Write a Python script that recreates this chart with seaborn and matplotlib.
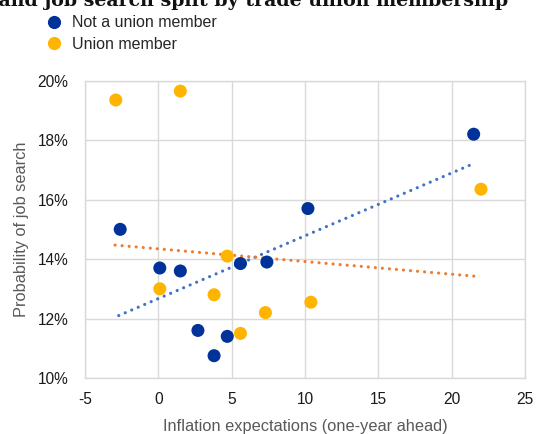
import matplotlib
matplotlib.use("Agg")
import matplotlib.pyplot as plt
import seaborn as sns
import pandas as pd
from matplotlib.lines import Line2D

# ---- data ----
non_union_x = [-2.6, 0.1, 1.5, 2.7, 4.7, 3.8, 5.6, 7.4, 10.2, 21.5]
non_union_y = [15.0, 13.7, 13.6, 11.6, 11.4, 10.75, 13.85, 13.9, 15.7, 18.2]
union_x = [-2.9, 1.5, 4.7, 0.1, 3.8, 5.6, 7.3, 10.4, 22.0]
union_y = [19.35, 19.65, 14.1, 13.0, 12.8, 11.5, 12.2, 12.55, 16.35]
trend_non_union_x = [-2.7, 21.2]
trend_non_union_y = [12.1, 17.15]
trend_union_x = [-2.95, 21.9]
trend_union_y = [14.47, 13.41]
x_ticks = [-5, 0, 5, 10, 15, 20, 25]
y_ticks = [10, 12, 14, 16, 18, 20]
series_names = ["Not a union member", "Union member"]
title = "Inflation expectations and job search split by trade union membership"
x_label = "Inflation expectations (one-year ahead)"
y_label = "Probability of job search"

sns.set_theme(style="white")
plt.rcParams['font.family'] = ['Liberation Sans', 'DejaVu Sans']

W, H = 536, 434
fig = plt.figure(figsize=(W / 100, H / 100), dpi=100)
ax = fig.add_axes([85 / W, (H - 378) / H, (525 - 85) / W, (378 - 80.7) / H])

df = pd.DataFrame({
    "x": non_union_x + union_x,
    "y": non_union_y + union_y,
    "group": [series_names[0]] * len(non_union_x) + [series_names[1]] * len(union_x),
})
palette = {series_names[0]: "#003299", series_names[1]: "#FFB400"}

dot_style = dict(linewidth=2.3, linestyle=(0, (0.01, 2.2)), dash_capstyle="round")
sns.lineplot(x=trend_non_union_x, y=trend_non_union_y, ax=ax, color="#4472C4", zorder=3, **dot_style)
sns.lineplot(x=trend_union_x, y=trend_union_y, ax=ax, color="#ED7D31", zorder=3, **dot_style)
sns.scatterplot(data=df, x="x", y="y", hue="group", palette=palette, s=88,
                linewidth=0, ax=ax, zorder=4, legend=False)

ax.set_xlim(-5, 25)
ax.set_ylim(10, 20)
ax.set_xticks(x_ticks)
ax.set_yticks(y_ticks)
ax.set_xticklabels([str(t) for t in x_ticks])
ax.set_yticklabels([f"{t}%" for t in y_ticks])
ax.grid(True, color="#d9d9d9", linewidth=1.0)
ax.set_axisbelow(True)
for s in ax.spines.values():
    s.set_visible(True)
    s.set_color("#d9d9d9")
    s.set_linewidth(1.0)
ax.tick_params(axis="both", length=0, labelsize=11.2, colors="#1a1a1a")
ax.tick_params(axis="y", pad=12)
ax.tick_params(axis="x", pad=10)
ax.set_xlabel(x_label, fontsize=11.8, color="#595959", labelpad=9)
ax.set_ylabel(y_label, fontsize=11.8, color="#595959", labelpad=6)

handles = [Line2D([0], [0], marker="o", linestyle="", markersize=9.5,
                  markerfacecolor=palette[n], markeredgewidth=0) for n in series_names]
fig.legend(handles, series_names, loc="upper left", bbox_to_anchor=(38 / W, 1 - 9 / H),
           frameon=False, fontsize=11.5, handletextpad=0.5, labelspacing=0.4,
           borderaxespad=0, handlelength=1.2)

fig.text(508 / W, 1 - 6 / H, title, ha="right", va="baseline",
         fontsize=13.7, fontweight="bold", family="DejaVu Serif", color="#111111")

fig.savefig("out.png", dpi=100)
